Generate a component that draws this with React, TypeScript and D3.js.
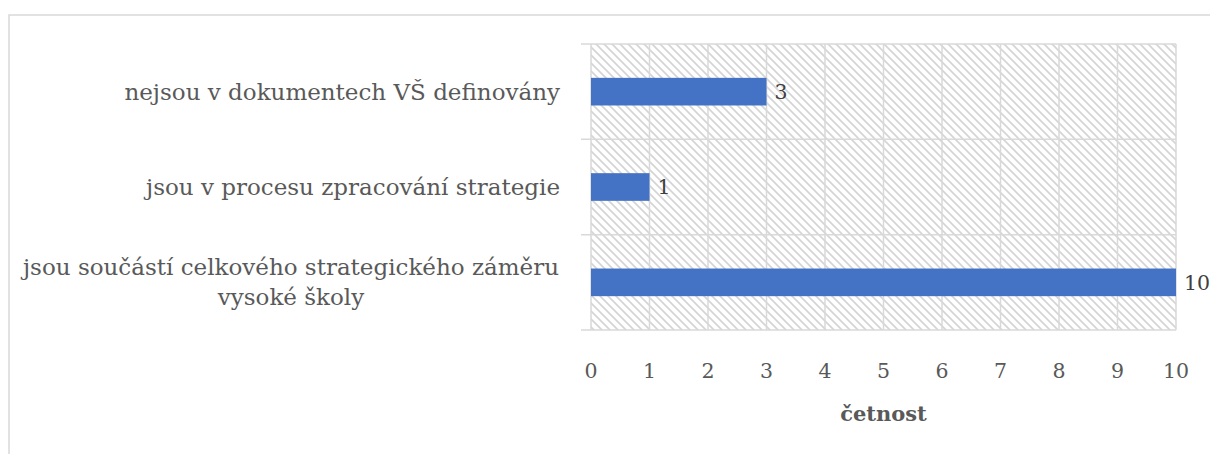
import React from "react";
import * as d3 from "d3";

// categories from top to bottom, each one a list of label lines
const categories = [
  ["nejsou v dokumentech VŠ definovány"],
  ["jsou v procesu zpracování strategie"],
  ["jsou součástí celkového strategického záměru", "vysoké školy"],
];
const values = [3, 1, 10];
const xTicks = [0, 1, 2, 3, 4, 5, 6, 7, 8, 9, 10];
const axisTitle = "četnost";

const width = 1210;
const height = 454;
const plot = { left: 591, right: 1176, top: 44, bottom: 330 };
const font = "'Palatino Linotype', 'Book Antiqua', Palatino, 'DejaVu Serif', serif";
const textColor = "#595959";
const gridColor = "#d9d9d9";

const App = () => {
  const x = d3.scaleLinear().domain([0, 10]).range([plot.left, plot.right]);
  const y = d3
    .scaleBand<number>()
    .domain(d3.range(categories.length))
    .range([plot.top, plot.bottom])
    .paddingInner(0)
    .paddingOuter(0);
  const barH = y.bandwidth() * 0.29;
  const labelRight = plot.left - 31;

  return (
    <svg
      width={width}
      height={height}
      style={{ position: "absolute", left: 0, top: 0, display: "block" }}
      fontFamily={font}
    >
      <defs>
        <pattern id="hatch" width={8} height={8} patternUnits="userSpaceOnUse">
          <rect width={8} height={8} fill="#fff" />
          <path
            d="M-2,-2L10,10M-2,6L2,10M6,-2L10,2"
            stroke="#d4d4d4"
            strokeWidth={1.6}
          />
        </pattern>
      </defs>
      <rect width={width} height={height} fill="#fff" />
      {/* chart border, cut off by the picture on the right and bottom */}
      <rect x={9} y={15} width={1300} height={600} fill="none" stroke={gridColor} strokeWidth={1.5} />

      <rect
        x={plot.left}
        y={plot.top}
        width={plot.right - plot.left}
        height={plot.bottom - plot.top}
        fill="url(#hatch)"
      />

      {xTicks.map((t) => (
        <line
          key={"v" + t}
          x1={x(t)}
          x2={x(t)}
          y1={plot.top}
          y2={plot.bottom}
          stroke={gridColor}
          strokeWidth={1.5}
        />
      ))}
      {d3.range(categories.length + 1).map((i) => {
        const yy = i < categories.length ? y(i)! : plot.bottom;
        return (
          <line
            key={"h" + i}
            x1={plot.left - 10}
            x2={plot.right}
            y1={yy}
            y2={yy}
            stroke={gridColor}
            strokeWidth={1.5}
          />
        );
      })}

      {values.map((v, i) => {
        const cy = y(i)! + y.bandwidth() / 2;
        return (
          <g key={"b" + i}>
            <rect x={x(0)} y={cy - barH / 2} width={x(v) - x(0)} height={barH} fill="#4472c4" />
            <text x={x(v) + 8} y={cy} dy="0.35em" fontSize={20.5} fill="#404040">
              {v}
            </text>
          </g>
        );
      })}

      {categories.map((lines, i) => {
        const cy = y(i)! + y.bandwidth() / 2;
        const lh = 30;
        const y0 = cy - ((lines.length - 1) * lh) / 2;
        const multi = lines.length > 1;
        return (
          <text
            key={"c" + i}
            textAnchor={multi ? "middle" : "end"}
            fontSize={23}
            fill={textColor}
          >
            {lines.map((l, j) => (
              <tspan key={j} x={multi ? 291 : labelRight} y={y0 + j * lh} dy="0.35em">
                {l}
              </tspan>
            ))}
          </text>
        );
      })}

      {xTicks.map((t) => (
        <text key={"t" + t} x={x(t)} y={378} textAnchor="middle" fontSize={20.5} fill={textColor}>
          {t}
        </text>
      ))}

      <text
        x={(plot.left + plot.right) / 2}
        y={421}
        textAnchor="middle"
        fontSize={21}
        fontWeight="bold"
        fill={textColor}
      >
        {axisTitle}
      </text>
    </svg>
  );
};

export default App;
